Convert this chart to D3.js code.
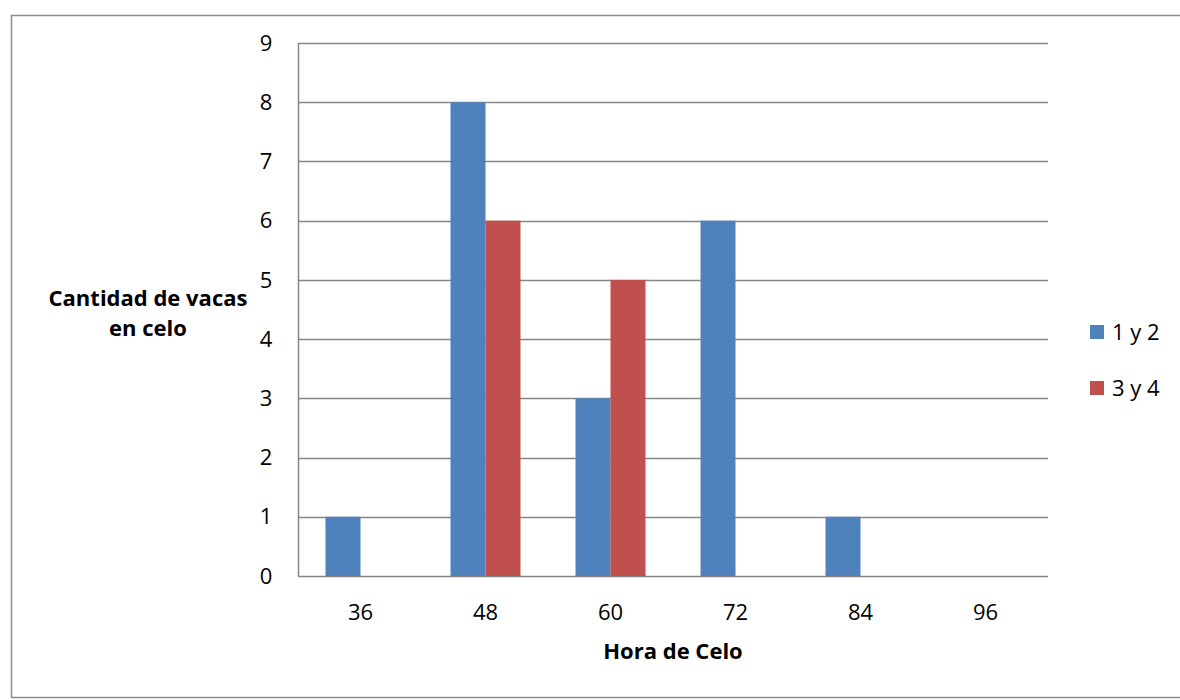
<!DOCTYPE html>
<html><head><meta charset="utf-8">
<script src="https://cdn.jsdelivr.net/npm/d3@7"></script>
<style>body{margin:0;background:#fff}svg{display:block}text{font-family:"Open Sans",Lato,sans-serif}</style>
</head><body>
<svg id="c" width="1180" height="700"></svg>
<script>
const categories = ["36","48","60","72","84","96"];
const seriesNames = ["1 y 2","3 y 4"];
const series1 = [1,8,3,6,1,0];
const series2 = [0,6,5,0,0,0];
const yTicks = [0,1,2,3,4,5,6,7,8,9];
const colors = ["#4F81BD","#C0504D"];

const svg = d3.select("#c");
svg.append("rect").attr("x",11.5).attr("y",15.5).attr("width",1180).attr("height",682)
  .attr("fill","#fff").attr("stroke","#8c8c8c").attr("stroke-width",1.5);

const L=298,R=1048,T=43,B=576;
const x = d3.scaleBand().domain(categories).range([L,R]);
const y = d3.scaleLinear().domain([0,9]).range([B,T]);
const gw = 70;
const xs = d3.scaleBand().domain(seriesNames).range([(x.bandwidth()-gw)/2,(x.bandwidth()+gw)/2]);

const g = svg.append("g");
g.selectAll("line.grid").data(yTicks).join("line")
  .attr("x1",L).attr("x2",R).attr("y1",d=>Math.round(y(d))+0.5).attr("y2",d=>Math.round(y(d))+0.5)
  .attr("stroke","#868686").attr("stroke-width",1.5);
g.append("line").attr("x1",L+0.5).attr("x2",L+0.5).attr("y1",T).attr("y2",B).attr("stroke","#868686").attr("stroke-width",1.5);

const data = [series1,series2];
data.forEach((s,si)=>{
  g.selectAll("rect.s"+si).data(s.map((v,i)=>({c:categories[i],v}))).join("rect")
    .attr("x",d=>x(d.c)+xs(seriesNames[si])).attr("width",xs.bandwidth())
    .attr("y",d=>y(d.v)).attr("height",d=>y(0)-y(d.v))
    .attr("fill",colors[si]);
});

g.selectAll("text.yt").data(yTicks).join("text")
  .attr("x",L-32).attr("y",d=>y(d)).attr("dy","0.35em").attr("text-anchor","middle")
  .attr("font-size",22).attr("fill","#000").text(d=>d);
g.selectAll("text.xt").data(categories).join("text")
  .attr("x",d=>x(d)+x.bandwidth()/2).attr("y",B+36).attr("dy","0.35em").attr("text-anchor","middle")
  .attr("font-size",22).attr("fill","#000").text(d=>d);

svg.append("text").attr("x",673).attr("y",651).attr("dy","0.35em").attr("text-anchor","middle")
  .attr("font-size",22).attr("font-weight","bold").text("Hora de Celo");
const yl = svg.append("text").attr("text-anchor","middle").attr("font-size",22).attr("font-weight","bold");
yl.append("tspan").attr("x",148).attr("y",298).attr("dy","0.35em").text("Cantidad de vacas");
yl.append("tspan").attr("x",148).attr("y",328).attr("dy","0.35em").text("en celo");

seriesNames.forEach((n,i)=>{
  svg.append("rect").attr("x",1090).attr("y",325+i*56).attr("width",14).attr("height",14).attr("fill",colors[i]);
  svg.append("text").attr("x",1112).attr("y",332+i*56).attr("dy","0.35em").attr("font-size",22).text(n);
});
</script>
</body></html>
